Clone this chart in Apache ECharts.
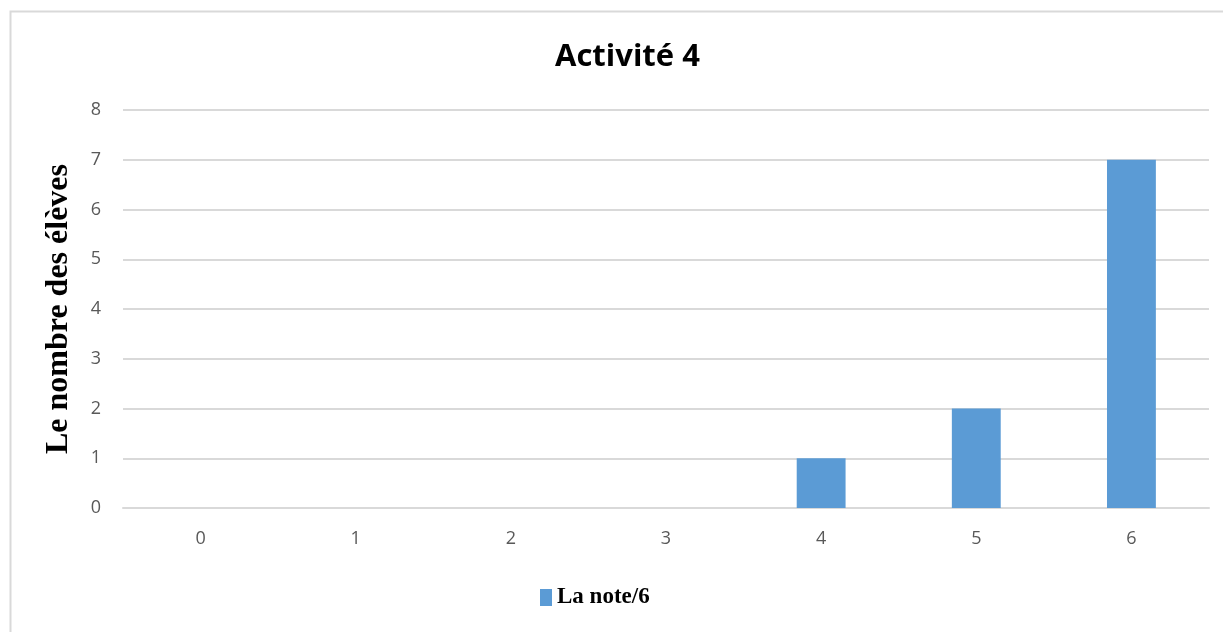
<!DOCTYPE html>
<html>
<head>
<meta charset="utf-8">
<script src="https://cdn.jsdelivr.net/npm/echarts@6/dist/echarts.min.js"></script>
<style>
  html, body { margin: 0; padding: 0; background: #fff; }
  #chart { width: 1223px; height: 632px; }
</style>
</head>
<body>
<div id="chart"></div>
<script>
// données
var notes = ['0', '1', '2', '3', '4', '5', '6'];
var nbEleves = [0, 0, 0, 0, 1, 2, 7];
var serieNom = 'La note/6';

var myChart = echarts.init(document.getElementById('chart'));
var option = {
  animation: false,
  graphic: [{
    type: 'rect',
    shape: { x: 10.5, y: 11.5, width: 1240, height: 660 },
    style: { fill: 'none', stroke: '#d9d9d9', lineWidth: 2 },
    silent: true
  }],
  title: {
    text: 'Activité 4',
    left: 550,
    top: 37,
    textStyle: { fontFamily: 'Open Sans', fontWeight: 'bold', fontSize: 31, color: '#000' }
  },
  legend: {
    data: [serieNom],
    top: 581,
    left: 535,
    icon: 'rect',
    itemWidth: 12,
    itemHeight: 17,
    textStyle: { fontFamily: 'Liberation Serif', fontWeight: 'bold', fontSize: 23, color: '#000' }
  },
  grid: { left: 123, right: 14, top: 110, bottom: 124 },
  xAxis: {
    type: 'category',
    data: notes,
    axisLine: { lineStyle: { color: '#d9d9d9', width: 2 } },
    axisTick: { show: false },
    axisLabel: { margin: 22, fontFamily: 'Open Sans', fontSize: 18, color: '#595959' }
  },
  yAxis: {
    type: 'value',
    min: 0,
    max: 8,
    interval: 1,
    name: 'Le nombre des élèves',
    nameLocation: 'middle',
    nameGap: 48,
    nameTextStyle: { fontFamily: 'Liberation Serif', fontWeight: 'bold', fontSize: 32, color: '#000' },
    axisLine: { show: false },
    axisTick: { show: false },
    axisLabel: { margin: 22, fontFamily: 'Open Sans', fontSize: 18, color: '#595959' },
    splitLine: { lineStyle: { color: '#d9d9d9', width: 2 } }
  },
  series: [{
    name: serieNom,
    type: 'bar',
    data: nbEleves,
    barWidth: '31.5%',
    itemStyle: { color: '#5b9bd5' }
  }]
};
myChart.setOption(option);
</script>
</body>
</html>
